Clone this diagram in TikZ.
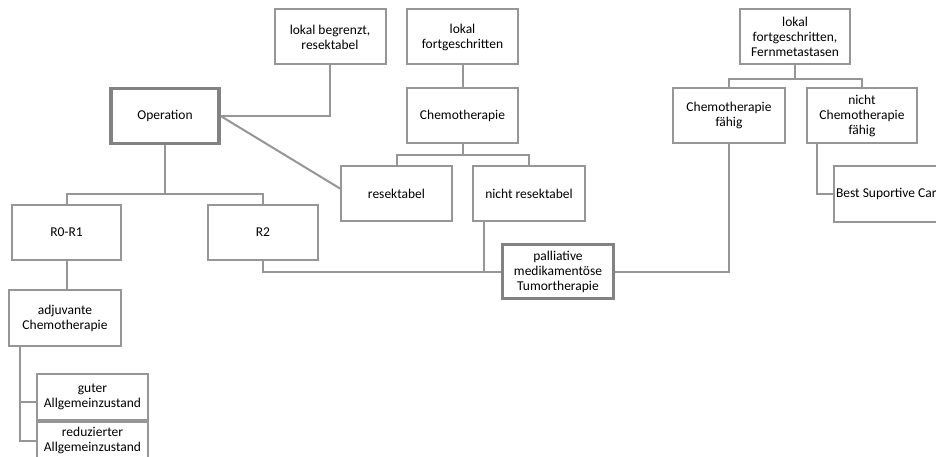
\documentclass[tikz,border=0pt]{standalone}
\usepackage{fontspec}
\setmainfont{Carlito}
\usepackage{tikz}
\usetikzlibrary{positioning,calc}

\definecolor{linegray}{RGB}{150,150,150}
\definecolor{darkgray}{RGB}{130,130,130}

\tikzset{
  box/.style={draw=linegray, line width=2pt, fill=white, align=center,
    minimum width=111pt, minimum height=55pt, inner sep=2pt},
  thickbox/.style={box, draw=darkgray, line width=3.2pt},
  link/.style={draw=linegray, line width=2pt}
}

\begin{document}
\begin{tikzpicture}[x=1pt, y=-1pt, font=\fontsize{13.5}{15}\selectfont]
\useasboundingbox (0,0) rectangle (936,457);
\clip (0,0) rectangle (936,457);
% top row
\node[box] (lb) at (330,37) {lokal begrenzt,\\resektabel};
\node[box] (lf) at (462.5,37) {lokal\\fortgeschritten};
\node[box, minimum width=110pt] (lff) at (795,37) {lokal\\fortgeschritten,\\Fernmetastasen};
% second row
\node[thickbox, minimum width=108pt] (op) at (165,116) {Operation};
\node[box] (chemo) at (462.5,115.5) {Chemotherapie};
\node[box, minimum width=112pt] (cf) at (729,115.5) {Chemotherapie\\fähig};
\node[box, minimum width=110pt] (ncf) at (862,115.5) {nicht\\Chemotherapie\\fähig};
% third row
\node[box] (res) at (396.5,193.5) {resektabel};
\node[box, minimum width=112pt] (nres) at (529,193.5) {nicht resektabel};
\node[box, inner xsep=1pt] (bsc) at (889.5,194) {\makebox[107pt][l]{Best Suportive Care}};
\node[box, minimum width=109pt] (r01) at (66.5,232.5) {R0-R1};
\node[box, minimum width=110pt] (r2) at (263,232.5) {R2};
% lower part
\node[thickbox, minimum width=111pt, minimum height=54pt] (pall) at (558,271.5) {palliative\\medikamentöse\\Tumortherapie};
\node[box, minimum width=112pt, minimum height=56pt] (adj) at (65,318) {adjuvante\\Chemotherapie};
\node[box, minimum height=46pt] (gut) at (92.5,397) {guter\\Allgemeinzustand};
\node[box, minimum height=37pt, anchor=north] (red) at (gut.south) {reduzierter\\Allgemeinzustand};
% connectors
\draw[link] (lb.south) |- (op.east);
\draw[link] (op.east) -- ([yshift=5pt]res.west);
\draw[link] (op.south) -- ++(0,49) coordinate (opj) -| (r01.north);
\draw[link] (opj) -| (r2.north);
\draw[link] (lf.south) -- (chemo.north);
\draw[link] (chemo.south) -- ++(0,11) coordinate (cj) -| (res.north);
\draw[link] (cj) -| (nres.north);
\draw[link] ([xshift=12pt]nres.south west) |- (pall.west);
\draw[link] (r2.south) |- (pall.west);
\draw[link] (pall.east) -| (cf.south);
\draw[link] (lff.south) -- ++(0,14) coordinate (fj) -| (cf.north);
\draw[link] (fj) -| (ncf.north);
\draw[link] ([xshift=11pt]ncf.south west) |- (bsc.west);
\draw[link] (r01.south) -- (r01.south |- adj.north);
\draw[link] ([xshift=12pt]adj.south west) |- ([yshift=-5pt]gut.west);
\draw[link] ([xshift=12pt]adj.south west) |- (red.west);
\end{tikzpicture}
\end{document}
